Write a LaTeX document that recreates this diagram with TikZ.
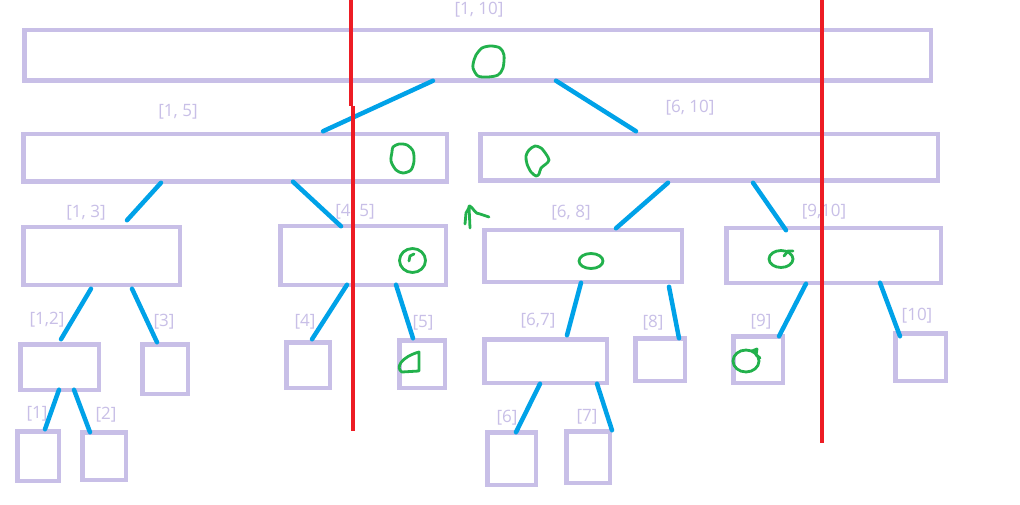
\documentclass[tikz,border=0pt]{standalone}
\usepackage{fontspec}
\setmainfont{Open Sans}
\usepackage{tikz}
\definecolor{segc}{HTML}{C8BFE7}
\definecolor{linkc}{HTML}{00A2E8}
\definecolor{cutc}{HTML}{ED1C24}
\definecolor{hitc}{HTML}{22B14C}
\begin{document}
\begin{tikzpicture}[x=1pt,y=-1pt,
  seg/.style={draw=segc,line width=4.5pt,inner sep=0pt,outer sep=0pt},
  lab/.style={text=segc,font=\fontsize{17}{20}\selectfont,inner sep=0pt},
  link/.style={draw=linkc,line width=4.5pt,line cap=round},
  cut/.style={draw=cutc,line width=4.2pt},
  hit/.style={draw=hitc,line width=2.8pt,line join=round,line cap=round}]
\fill[white] (0,0) rectangle (1020,505);
\useasboundingbox (0,0) rectangle (1020,505);
\node[seg,minimum width=906.5,minimum height=50.5] (n110) at (477.5,55.5) {};
\node[seg,minimum width=423.5,minimum height=47.5] (n15) at (235,158) {};
\node[seg,minimum width=457.5,minimum height=46.5] (n610) at (709,157.5) {};
\node[seg,minimum width=156.5,minimum height=57.5] (n13) at (101.5,256) {};
\node[seg,minimum width=165.5,minimum height=58.5] (n45) at (363,255.5) {};
\node[seg,minimum width=197.5,minimum height=51.5] (n68) at (583,256) {};
\node[seg,minimum width=214.5,minimum height=54.5] (n910) at (833.5,255.5) {};
\node[seg,minimum width=78.5,minimum height=45.5] (n12) at (59.5,367) {};
\node[seg,minimum width=45.5,minimum height=49.5] (n3) at (165,369) {};
\node[seg,minimum width=43.5,minimum height=45.5] (n4) at (308,365) {};
\node[seg,minimum width=45.5,minimum height=47.5] (n5) at (422,364) {};
\node[seg,minimum width=122.5,minimum height=43.5] (n67) at (545.5,361) {};
\node[seg,minimum width=49.5,minimum height=42.5] (n8) at (660,359.5) {};
\node[seg,minimum width=49.5,minimum height=46.5] (n9) at (758,359.5) {};
\node[seg,minimum width=50.5,minimum height=47.5] (n10) at (920.5,357) {};
\node[seg,minimum width=41.5,minimum height=49.5] (n1) at (38,456) {};
\node[seg,minimum width=43.5,minimum height=47.5] (n2) at (104,456) {};
\node[seg,minimum width=48.5,minimum height=52.5] (n6) at (511.5,458.5) {};
\node[seg,minimum width=43.5,minimum height=51.5] (n7) at (588,457) {};

\node[lab] (t110) at (479,10) {[1, 10]};
\node[lab] (t15) at (178,112) {[1, 5]};
\node[lab] (t610) at (690,108) {[6, 10]};
\node[lab] (t13) at (86,213) {[1, 3]};
\node[lab] (t45) at (355,212) {[4, 5]};
\node[lab] (t68) at (571,213) {[6, 8]};
\node[lab] (t910) at (824,212) {[9,10]};
\node[lab] (t12) at (47,320) {[1,2]};
\node[lab] (t3) at (164,322) {[3]};
\node[lab] (t4) at (305,322) {[4]};
\node[lab] (t5) at (423,323) {[5]};
\node[lab] (t67) at (538,321) {[6,7]};
\node[lab] (t8) at (653,323) {[8]};
\node[lab] (t9) at (761,322) {[9]};
\node[lab] (t10) at (917,316) {[10]};
\node[lab] (t1) at (37,414) {[1]};
\node[lab] (t2) at (106,415) {[2]};
\node[lab] (t6) at (507,418) {[6]};
\node[lab] (t7) at (587,417) {[7]};

\draw[link] ([xshift=-44.5pt]n110.south) -- ([xshift=88pt,yshift=3pt]n15.north);
\draw[link] ([xshift=78.5pt]n110.south) -- ([xshift=-73pt,yshift=3pt]n610.north);
\draw[link] ([xshift=-74pt,yshift=-1pt]n15.south) -- ([xshift=25.5pt,yshift=7pt]n13.north);
\draw[link] ([xshift=58pt]n15.south) -- ([xshift=-22pt]n45.north);
\draw[link] ([xshift=-41pt,yshift=-2pt]n610.south) -- ([xshift=33pt,yshift=2pt]n68.north);
\draw[link] ([xshift=44pt,yshift=-2pt]n610.south) -- ([xshift=-47.5pt,yshift=-2pt]n910.north);
\draw[link] ([xshift=-10.5pt,yshift=-4pt]n13.south) -- ([xshift=1.5pt,yshift=5pt]n12.north);
\draw[link] ([xshift=30.5pt,yshift=-4pt]n13.south) -- ([xshift=-8pt,yshift=2pt]n3.north);
\draw[link] ([xshift=-16pt]n45.south) -- ([xshift=4pt,yshift=3pt]n4.north);
\draw[link] ([xshift=33pt]n45.south) -- ([xshift=-9pt,yshift=2pt]n5.north);
\draw[link] ([xshift=-2pt,yshift=-1pt]n68.south) -- ([xshift=21.5pt,yshift=4pt]n67.north);
\draw[link] ([xshift=86pt,yshift=-5pt]n68.south) -- ([xshift=19pt]n8.north);
\draw[link] ([xshift=-27.5pt,yshift=-1pt]n910.south) -- ([xshift=21pt]n9.north);
\draw[link] ([xshift=46.5pt]n910.south) -- ([xshift=-20.5pt,yshift=-3pt]n10.north);
\draw[link] ([xshift=-0.5pt]n12.south) -- ([xshift=7pt,yshift=2pt]n1.north);
\draw[link] ([xshift=14.5pt]n12.south) -- ([xshift=-14pt]n2.north);
\draw[link] ([xshift=-5.5pt,yshift=-1pt]n67.south) -- ([xshift=4.5pt]n6.north);
\draw[link] ([xshift=51.5pt,yshift=-1pt]n67.south) -- ([xshift=24pt,yshift=1pt]n7.north);

\draw[cut] (351,0) -- (351,106);
\draw[cut] (353,106) -- (353,431);
\draw[cut] (822,0) -- (822,443);

\draw[hit] plot[smooth cycle] coordinates {(476,55) (482,48) (491,46) (500,48) (504,55) (503,68) (498,75) (488,77) (478,76) (473,68) (474,60)};
\draw[hit] plot[smooth cycle] coordinates {(393,147) (399,144) (407,145) (413,151) (414,161) (411,170) (403,173) (396,170) (391,161) (392,152)};
\draw[hit] plot[smooth cycle] coordinates {(529,150) (535,146) (541,148) (546,154) (549,160) (546,164) (541,168) (539,174) (536,176) (531,172) (527,164) (526,156)};
\draw[hit] (412.5,260.5) ellipse [x radius=13pt,y radius=12pt];
\draw[hit] (409,261) -- (410,256) -- (414,254);
\draw[hit] (591,261) ellipse [x radius=12pt,y radius=7.5pt];
\draw[hit] (781,259) ellipse [x radius=12pt,y radius=8.5pt];
\draw[hit] (784,256) -- (788,251) -- (793,251);
\draw[hit] (419,352) -- (419,371) -- (402,372) .. controls (395,368) and (401,357) .. (419,352) -- cycle;
\draw[hit] (746,361) ellipse [x radius=13pt,y radius=11pt];
\draw[hit] (752,351) -- (757,349) -- (756,355) -- (760,358);
\draw[hit] (470,228) -- (469,206);
\draw[hit] (465,224) -- (466,213) -- (470,206) .. controls (474,209) and (475,214) .. (480,214) -- (489,217);
\end{tikzpicture}
\end{document}
